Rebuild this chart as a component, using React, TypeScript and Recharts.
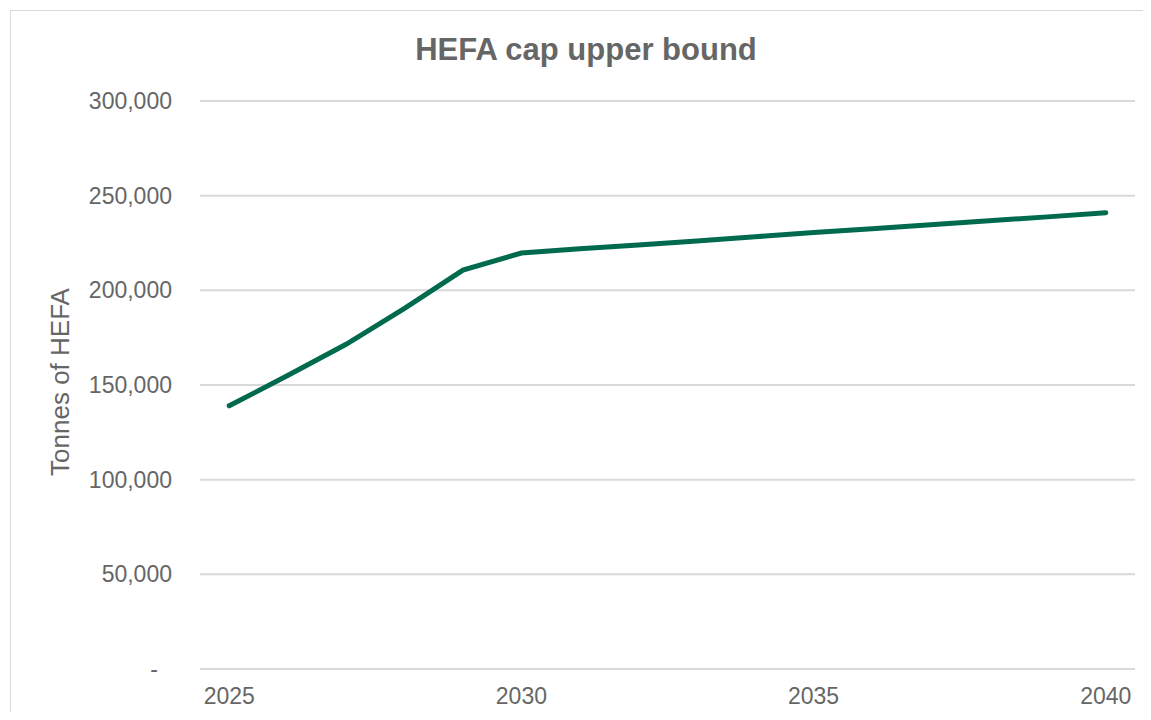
import React from 'react';
import { LineChart, Line, XAxis, YAxis, CartesianGrid } from 'recharts';

const years = [2025, 2026, 2027, 2028, 2029, 2030, 2031, 2032, 2033, 2034, 2035, 2036, 2037, 2038, 2039, 2040];
const hefaCap = [139000, 155000, 171500, 190500, 210700, 219700, 222000, 224000, 226000, 228300, 230500, 232500, 234600, 236700, 238800, 241000];
const yTicks = [0, 50000, 100000, 150000, 200000, 250000, 300000];
const xTicks = [2025, 2030, 2035, 2040];

const data = years.map((year, i) => ({ year, value: hefaCap[i] }));

const FONT = '"Liberation Sans", Arial, sans-serif';
const GREY = '#666666';

const YTick = (props: any) => {
  const { x, y, payload } = props;
  const isZero = payload.value === 0;
  return (
    <text
      x={isZero ? x - 14 : x}
      y={y}
      dy={8}
      textAnchor="end"
      fill={GREY}
      fontSize={23}
      fontFamily={FONT}
    >
      {isZero ? '-' : payload.value.toLocaleString('en-US')}
    </text>
  );
};

export default function App() {
  return (
    <div style={{ position: 'relative', width: 1151, height: 720, margin: -8, overflow: 'hidden', background: '#fff' }}>
      <div style={{ position: 'absolute', left: 10, top: 10, width: 1135, height: 730, border: '1px solid #d9d9d9' }} />
      <div
        style={{
          position: 'absolute', left: 386, top: 32, width: 400, textAlign: 'center',
          fontFamily: FONT, fontWeight: 'bold', fontSize: 31, color: GREY,
        }}
      >
        HEFA cap upper bound
      </div>
      <div style={{ position: 'absolute', left: 0, top: 0 }}>
        <LineChart width={1151} height={720} data={data} margin={{ top: 101, right: 16, bottom: 21, left: 0 }}>
          <CartesianGrid vertical={false} stroke="#d9d9d9" strokeWidth={2} />
          <XAxis
            dataKey="year"
            type="number"
            domain={[2024.5, 2040.5]}
            ticks={xTicks}
            axisLine={false}
            tickLine={false}
            tickSize={0}
            tickMargin={19}
            tick={{ fill: GREY, fontSize: 23, fontFamily: FONT }}
          />
          <YAxis
            width={200}
            domain={[0, 300000]}
            ticks={yTicks}
            axisLine={false}
            tickLine={false}
            tickSize={0}
            tickMargin={28}
            tick={<YTick />}
            label={{
              value: 'Tonnes of HEFA',
              angle: -90,
              position: 'insideLeft',
              offset: 60,
              dy: -3,
              style: { textAnchor: 'middle', fill: GREY, fontSize: 26, fontFamily: FONT },
            }}
          />
          <Line
            type="linear"
            dataKey="value"
            stroke="#006a4e"
            strokeWidth={5}
            dot={false}
            strokeLinecap="round"
            isAnimationActive={false}
          />
        </LineChart>
      </div>
    </div>
  );
}
